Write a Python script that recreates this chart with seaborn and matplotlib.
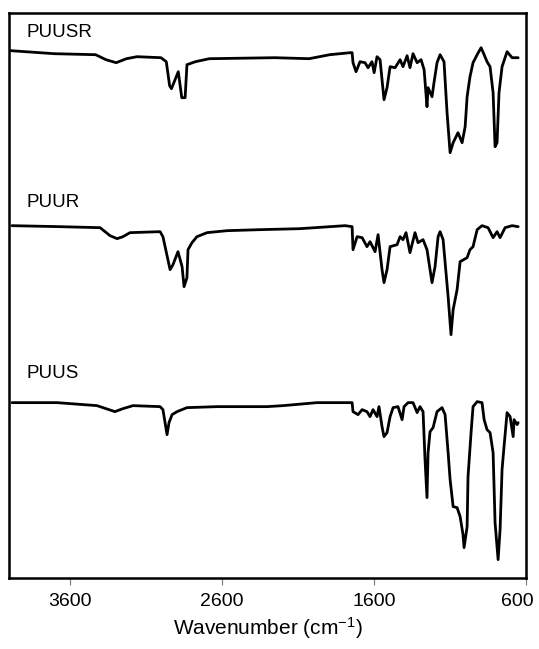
import numpy as np
import pandas as pd
import matplotlib
matplotlib.use("Agg")
import matplotlib.pyplot as plt
import matplotlib.transforms as mtransforms
import seaborn as sns

# FTIR spectra, wavenumber (cm-1) and offset transmittance (a.u.)
puusr_wn = [3990, 3705, 3433, 3365, 3298, 3230, 3161, 3003, 2968, 2946, 2934, 2889,
            2866, 2844, 2832, 2776, 2685, 2254, 2028, 1892, 1758, 1745, 1739, 1719,
            1693, 1660, 1640, 1614, 1600, 1581, 1561, 1548, 1535, 1515, 1495, 1462,
            1429, 1410, 1383, 1364, 1344, 1317, 1291, 1271, 1252, 1245, 1219, 1206,
            1186, 1166, 1140, 1120, 1100, 1080, 1048, 1021, 1001, 988, 969, 949,
            922, 896, 876, 857, 837, 817, 804, 791, 778, 758, 725, 692, 652]
puusr_t = [527, 524, 523, 518, 515, 519, 521, 520, 516, 492, 489, 506,
           480, 480, 513, 516, 519, 520, 519, 523, 525, 525, 515, 506,
           516, 515, 510, 516, 505, 521, 518, 498, 478, 490, 511, 510,
           518, 511, 522, 510, 524, 515, 518, 508, 471, 490, 481, 495,
           515, 523, 516, 465, 425, 435, 445, 435, 451, 481, 501, 515,
           523, 530, 523, 516, 511, 485, 431, 435, 485, 511, 526, 520, 520]

puur_wn = [3984, 3668, 3404, 3338, 3292, 3253, 3207, 3009, 2990, 2943, 2924, 2891,
           2864, 2851, 2832, 2825, 2799, 2766, 2700, 2568, 2351, 2088, 1791, 1745,
           1739, 1712, 1679, 1647, 1627, 1594, 1574, 1548, 1535, 1515, 1495, 1449,
           1429, 1410, 1390, 1364, 1331, 1311, 1278, 1252, 1219, 1199, 1179, 1166,
           1146, 1113, 1094, 1080, 1054, 1034, 988, 969, 949, 922, 890, 850,
           817, 791, 771, 738, 692, 652]
puur_t = [352, 351, 350, 342, 339, 341, 345, 346, 341, 308, 313, 326,
          311, 291, 300, 328, 335, 341, 345, 347, 348, 349, 352, 351,
          328, 341, 340, 331, 336, 326, 343, 308, 295, 308, 331, 333,
          341, 338, 345, 325, 345, 335, 338, 328, 295, 311, 341, 346,
          338, 281, 243, 268, 288, 316, 320, 328, 331, 348, 352, 350,
          340, 346, 340, 350, 352, 351]

puus_wn = [3984, 3687, 3424, 3306, 3253, 3187, 3009, 2990, 2963, 2950, 2930, 2897,
           2832, 2634, 2305, 2200, 1976, 1791, 1745, 1739, 1706, 1679, 1647, 1627,
           1607, 1581, 1568, 1548, 1535, 1515, 1495, 1475, 1443, 1416, 1403, 1377,
           1344, 1317, 1298, 1278, 1265, 1252, 1245, 1232, 1212, 1186, 1153, 1133,
           1113, 1100, 1080, 1054, 1034, 1015, 1008, 988, 982, 962, 949, 922,
           890, 876, 857, 837, 817, 804, 784, 771, 758, 745, 725, 705,
           685, 679, 659, 652]
puus_t = [175, 175, 172, 166, 169, 172, 171, 168, 143, 155, 163, 166,
          170, 171, 171, 172, 175, 175, 175, 166, 163, 168, 166, 161,
          168, 161, 171, 151, 141, 145, 161, 170, 171, 158, 171, 175,
          175, 165, 171, 166, 118, 80, 125, 146, 150, 166, 170, 163,
          125, 98, 71, 70, 61, 43, 30, 51, 101, 145, 171, 176,
          175, 158, 148, 145, 125, 55, 18, 48, 108, 131, 165, 161,
          141, 158, 153, 155]

names = ["PUUSR", "PUUR", "PUUS"]
label_y = [545, 375, 204]

frames = []
for name, wn, t in zip(names, [puusr_wn, puur_wn, puus_wn], [puusr_t, puur_t, puus_t]):
    frames.append(pd.DataFrame({"wavenumber": wn, "T": t, "sample": name}))
df = pd.concat(frames, ignore_index=True)

sns.set_style("white")
plt.rcParams['font.family'] = ['Liberation Sans', 'DejaVu Sans']
plt.rcParams['mathtext.fontset'] = 'custom'
plt.rcParams['mathtext.rm'] = 'Liberation Sans'
plt.rcParams['mathtext.default'] = 'regular'
plt.rcParams['text.color'] = 'black'
plt.rcParams['axes.labelcolor'] = 'black'

fig = plt.figure(figsize=(5.39, 6.49), dpi=100)
ax = fig.add_axes([0.0176, 0.11, 0.9584, 0.8695])

sns.lineplot(data=df, x="wavenumber", y="T", units="sample", estimator=None,
             sort=False, color="black", linewidth=2.0, ax=ax)

for name, y in zip(names, label_y):
    ax.text(3885, y, name, fontsize=13.5, ha="left", va="center", color="black")

ax.set_xlim(4000, 600)
ax.set_ylim(0, 564.4)
ax.set_xticks([3600, 2600, 1600, 600])
ax.set_yticks([])
ax.set_ylabel("")
ax.set_xlabel("Wavenumber (cm$^{-1}$)", fontsize=15, labelpad=4, color="black")
ax.tick_params(axis="x", direction="out", length=5, width=0.8, color="#777777",
               labelcolor="black", labelsize=14, pad=6, bottom=True)
for side in ax.spines.values():
    side.set_linewidth(1.8)
    side.set_color("black")

# keep the last tick label inside the canvas
last = ax.get_xticklabels()[-1]
last.set_transform(last.get_transform() + mtransforms.ScaledTranslation(-6 / 72, 0, fig.dpi_scale_trans))

fig.savefig("out.png", dpi=100)
